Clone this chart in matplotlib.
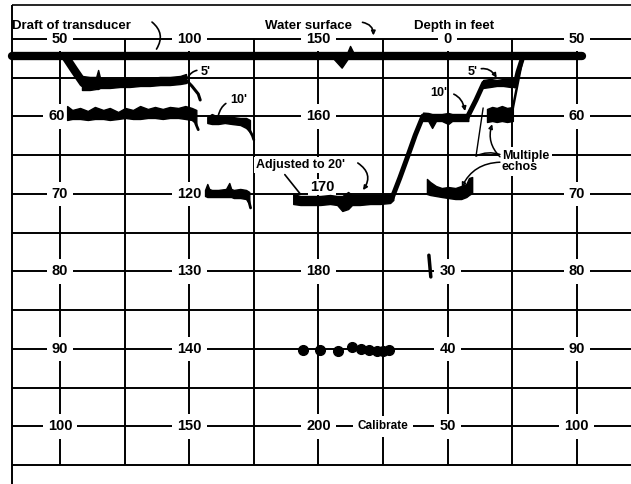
import matplotlib
matplotlib.use('Agg')
import matplotlib.pyplot as plt

plt.rcParams['font.family'] = ['Liberation Sans', 'DejaVu Sans']
plt.rcParams['font.weight'] = 'bold'

# x: chart time (one grid column = 10), y: depth in feet on the left scale
grid_x = [0, 10, 20, 30, 40, 50, 60, 70, 80]
grid_y = [50, 55, 60, 65, 70, 75, 80, 85, 90, 95, 100, 105]

lab_x = [0, 20, 40, 60, 80,
         -0.5, 40, 80,
         0, 20, 80,
         0, 20, 40, 60, 80,
         0, 20, 60, 80,
         0, 20, 40, 50, 60, 80]
lab_y = [50, 50, 50, 50, 50,
         60, 60, 60,
         70, 70, 70,
         80, 80, 80, 80, 80,
         90, 90, 90, 90,
         100, 100, 100, 100, 100, 100]
lab_text = ['50', '100', '150', '0', '50',
            '60', '160', '60',
            '70', '120', '70',
            '80', '130', '180', '30', '80',
            '90', '140', '40', '90',
            '100', '150', '200', 'Calibrate', '50', '100']

# water surface / transducer draft trace
surf_x = [-7.43, 80.8]
surf_y = [52.2, 52.2]
dip_x = [42.4, 43.6, 44.5]
dip_bot = [52.6, 53.7, 52.6]
bump_x = [44.4, 44.9, 45.5]
bump_top = [51.9, 50.9, 51.9]

# left 5' echo
l5_diag_x = [0.93, 2.2, 3.6]
l5_diag_y = [52.4, 54.0, 55.7]
l5_x = [3.4, 4.6, 5.6, 5.9, 6.2, 7.7, 9.3, 10.8, 12.4, 13.9, 15.5, 17.0, 18.6, 19.5]
l5_top = [54.77, 54.90, 54.90, 54.0, 55.03, 55.16, 55.16, 55.16, 55.03, 55.03, 54.90, 54.90, 54.77, 54.52]
l5_bot = [56.58, 56.58, 56.45, 56.45, 56.32, 56.32, 56.19, 56.19, 56.06, 56.06, 55.94, 55.94, 55.81, 55.68]
l5_tail_x = [19.5, 20.4, 21.4, 21.7]
l5_tail_y = [55.29, 56.06, 57.1, 57.87]

# left 10' echo, two pieces
l10a_x = [1.1, 1.9, 3.1, 4.3, 5.4, 6.7, 7.7, 9.0, 10.1, 11.3, 12.4, 13.6, 14.7, 15.9, 17.0, 18.3, 19.4, 20.4, 21.1]
l10a_top = [58.65, 59.16, 58.90, 59.29, 58.77, 59.16, 58.90, 59.42, 58.90, 59.16, 58.65, 59.03, 58.77, 59.03,
            58.77, 58.90, 58.65, 58.90, 59.16]
l10a_bot = [60.45, 60.32, 60.32, 60.45, 60.32, 60.32, 60.45, 60.32, 60.19, 60.32, 60.32, 60.19, 60.19, 60.32,
            60.19, 60.19, 60.32, 60.45, 60.97]
l10a_tail_x = [21.0, 21.4]
l10a_tail_y = [60.9, 61.7]

l10b_x = [22.8, 23.5, 24.5, 25.5, 26.6, 27.9, 28.8, 29.4]
l10b_top = [60.06, 59.68, 60.06, 60.06, 60.06, 60.19, 60.19, 60.45]
l10b_bot = [60.84, 60.97, 60.97, 60.84, 60.97, 61.10, 61.48, 62.00]
l10b_tail_x = [29.3, 29.8, 30.0]
l10b_tail_y = [61.7, 62.5, 63.0]

# piece at 120
b120_x = [22.45, 22.8, 23.1, 23.5, 24.5, 25.7, 26.2, 26.5, 26.9, 27.9, 28.8, 29.3]
b120_top = [69.48, 68.71, 69.35, 69.48, 69.48, 69.35, 68.58, 69.35, 69.48, 69.35, 69.48, 69.74]
b120_bot = [70.26, 70.39, 70.39, 70.39, 70.39, 70.39, 70.39, 70.39, 70.52, 70.52, 70.65, 71.29]
b120_tail_x = [29.2, 29.5]
b120_tail_y = [70.8, 71.8]

# adjusted to 20'
b170_x = [36.1, 37.2, 38.7, 40.3, 41.8, 42.9, 43.7, 44.6, 45.2, 46.4, 48.0, 49.5, 51.1, 51.6]
b170_top = [70.0, 70.26, 70.26, 70.26, 70.13, 70.26, 70.26, 69.74, 70.13, 70.13, 70.13, 70.13, 70.0, 69.74]
b170_bot = [71.29, 71.42, 71.42, 71.42, 71.29, 71.42, 72.19, 71.94, 71.42, 71.42, 71.29, 71.29, 71.16, 70.77]

rise1_x = [51.4, 52.6, 53.9, 55.0, 56.2]
rise1_y = [70.52, 67.94, 64.97, 62.39, 59.94]

r10_x = [56.2, 57.0, 57.6, 58.2, 59.1, 60.1, 60.7, 61.6, 62.4, 63.2]
r10_top = [59.5, 59.55, 59.68, 59.68, 59.68, 59.55, 59.68, 59.68, 59.68, 59.68]
r10_bot = [60.58, 60.58, 61.48, 60.58, 60.58, 60.97, 60.58, 60.58, 60.58, 60.58]

rise2_x = [63.0, 64.4, 65.6]
rise2_y = [60.19, 57.87, 55.68]

r5_x = [65.5, 66.6, 67.6, 68.6, 69.7, 70.6]
r5_top = [55.29, 55.16, 55.29, 55.16, 55.16, 55.03]
r5_bot = [56.32, 56.19, 56.06, 56.06, 56.19, 56.06]

rise3_x = [70.4, 70.9, 71.5]
rise3_y = [56.06, 54.26, 52.71]
strip_x = [71.5, 69.8]
strip_y = [52.97, 60.19]

# multiple echoes
m1_x = [66.1, 66.9, 67.6, 68.4, 69.2, 70.1]
m1_top = [59.03, 58.77, 58.90, 58.65, 58.90, 58.77]
m1_bot = [60.71, 60.58, 60.71, 60.58, 60.71, 60.58]
m_thin_x = [65.5, 64.4]
m_thin_y = [58.90, 65.10]

m2_x = [56.8, 57.3, 58.2, 59.1, 60.1, 61.2, 62.1, 62.9, 63.3, 63.8]
m2_top = [68.06, 68.45, 68.97, 69.23, 69.10, 69.23, 68.97, 68.71, 67.94, 67.81]
m2_bot = [70.0, 70.13, 70.26, 70.39, 70.52, 70.65, 70.65, 70.39, 70.13, 69.87]

mark_x = [57.1, 57.4]
mark_y = [77.9, 80.7]

dot_x = [37.6, 40.2, 43.0, 45.2, 46.6, 47.8, 49.0, 50.0, 50.9]
dot_y = [90.1, 90.1, 90.3, 89.8, 90.0, 90.1, 90.2, 90.3, 90.1]

fig = plt.figure(figsize=(6.31, 4.84), dpi=100)
ax = fig.add_axes([0, 0, 1, 1])
ax.set_xlim(-9.29, 88.39)
ax.set_ylim(107.42, 44.97)
ax.axis('off')

# chart paper
ax.hlines(grid_y, -7.43, 88.39, color='k', lw=1.4, zorder=1)
ax.vlines(grid_x, 50, 105, color='k', lw=1.4, zorder=1)
ax.hlines(45.6, -7.43, 88.39, color='k', lw=1.2, zorder=1)
ax.vlines(-7.43, 45.6, 107.42, color='k', lw=1.4, zorder=1)

for x, y, t in zip(lab_x, lab_y, lab_text):
    fs = 8.5 if t == 'Calibrate' else 10.5
    ax.text(x, y, t, ha='center', va='center', fontsize=fs, zorder=3,
            bbox=dict(boxstyle='square,pad=0.35', fc='white', ec='none'))

# echo traces
ax.plot(surf_x, surf_y, color='k', lw=6, solid_capstyle='round', zorder=4)
ax.fill_between(dip_x, 52.2, dip_bot, color='k', lw=1, zorder=4)
ax.fill_between(bump_x, bump_top, 52.2, color='k', lw=1, zorder=4)
ax.plot(l5_diag_x, l5_diag_y, color='k', lw=6, solid_capstyle='round', zorder=4)
for bx, bt, bb in [(l5_x, l5_top, l5_bot), (l10a_x, l10a_top, l10a_bot), (l10b_x, l10b_top, l10b_bot),
                   (b120_x, b120_top, b120_bot), (b170_x, b170_top, b170_bot), (r10_x, r10_top, r10_bot),
                   (r5_x, r5_top, r5_bot), (m1_x, m1_top, m1_bot), (m2_x, m2_top, m2_bot)]:
    ax.fill_between(bx, bt, bb, color='k', lw=1, zorder=4)
for lx, ly, w in [(l5_tail_x, l5_tail_y, 2.2), (l10a_tail_x, l10a_tail_y, 2), (l10b_tail_x, l10b_tail_y, 2),
                  (b120_tail_x, b120_tail_y, 2), (rise1_x, rise1_y, 3.6), (rise2_x, rise2_y, 3.6),
                  (rise3_x, rise3_y, 3.6), (strip_x, strip_y, 1.8), (m_thin_x, m_thin_y, 1.0),
                  (mark_x, mark_y, 2.5)]:
    ax.plot(lx, ly, color='k', lw=w, solid_capstyle='round', zorder=4)
ax.plot(dot_x, dot_y, 'o', color='k', ms=7, zorder=4)

# notes
ax.text(-7.43, 48.3, 'Draft of transducer', ha='left', va='center', fontsize=9.5)
ax.text(38.4, 48.3, 'Water surface', ha='center', va='center', fontsize=9.5)
ax.text(61.0, 48.3, 'Depth in feet', ha='center', va='center', fontsize=9.5)
ax.annotate('', xy=(14.7, 51.6), xytext=(13.9, 47.6),
            arrowprops=dict(arrowstyle='-', lw=1.2, connectionstyle='arc3,rad=-0.5'))
ax.annotate('', xy=(48.5, 49.9), xytext=(46.4, 47.8),
            arrowprops=dict(arrowstyle='-|>', lw=1.2, mutation_scale=6, connectionstyle='arc3,rad=-0.5'))

ax.annotate("5'", xy=(19.8, 54.9), xytext=(22.6, 54.2), ha='center', va='center', fontsize=9,
            arrowprops=dict(arrowstyle='-', lw=1.2, shrinkA=1, shrinkB=0, connectionstyle='arc3,rad=0.4'))
ax.annotate("10'", xy=(24.5, 59.9), xytext=(27.6, 57.9), ha='center', va='center', fontsize=9,
            arrowprops=dict(arrowstyle='-', lw=1.2, shrinkA=1, shrinkB=0, connectionstyle='arc3,rad=0.4'))
ax.text(37.2, 66.3, "Adjusted to 20'", ha='center', va='center', fontsize=9, zorder=3,
        bbox=dict(boxstyle='square,pad=0.15', fc='white', ec='none'))
ax.text(40.56, 69.1, '170', ha='center', va='center', fontsize=10.5, zorder=3,
        bbox=dict(boxstyle='square,pad=0.1', fc='white', ec='none'))
ax.annotate('', xy=(37.2, 70.0), xytext=(34.8, 67.5),
            arrowprops=dict(arrowstyle='-', lw=1.2, shrinkA=0, shrinkB=0))
ax.annotate('', xy=(46.9, 69.5), xytext=(46.1, 66.0),
            arrowprops=dict(arrowstyle='-|>', lw=1.2, mutation_scale=6, shrinkA=0, shrinkB=0,
                            connectionstyle='arc3,rad=-0.5'))
ax.annotate("5'", xy=(67.6, 55.0), xytext=(63.8, 54.3), ha='center', va='center', fontsize=9,
            arrowprops=dict(arrowstyle='-|>', lw=1.2, mutation_scale=6, shrinkA=1, shrinkB=0,
                            connectionstyle='arc3,rad=-0.5'))
ax.annotate("10'", xy=(62.7, 59.3), xytext=(58.6, 57.0), ha='center', va='center', fontsize=9,
            arrowprops=dict(arrowstyle='-|>', lw=1.2, mutation_scale=6, shrinkA=3, shrinkB=0,
                            connectionstyle='arc3,rad=-0.5'))
ax.text(68.4, 65.8, 'Multiple\nechos', ha='left', va='center', fontsize=9, linespacing=0.95, zorder=3,
        bbox=dict(boxstyle='square,pad=0.2', fc='white', ec='none'))
ax.annotate('', xy=(66.9, 61.0), xytext=(68.1, 65.2),
            arrowprops=dict(arrowstyle='-|>', lw=1.1, mutation_scale=6, shrinkA=0, shrinkB=0,
                            connectionstyle='arc3,rad=-0.3'))
ax.annotate('', xy=(62.2, 69.1), xytext=(68.1, 65.9),
            arrowprops=dict(arrowstyle='-|>', lw=1.1, mutation_scale=6, shrinkA=0, shrinkB=0,
                            connectionstyle='arc3,rad=0.3'))
ax.annotate('', xy=(64.4, 65.1), xytext=(68.1, 64.9),
            arrowprops=dict(arrowstyle='-', lw=1.1, shrinkA=0, shrinkB=0,
                            connectionstyle='arc3,rad=0.2'))

fig.savefig('out.png', dpi=100, facecolor='white')
